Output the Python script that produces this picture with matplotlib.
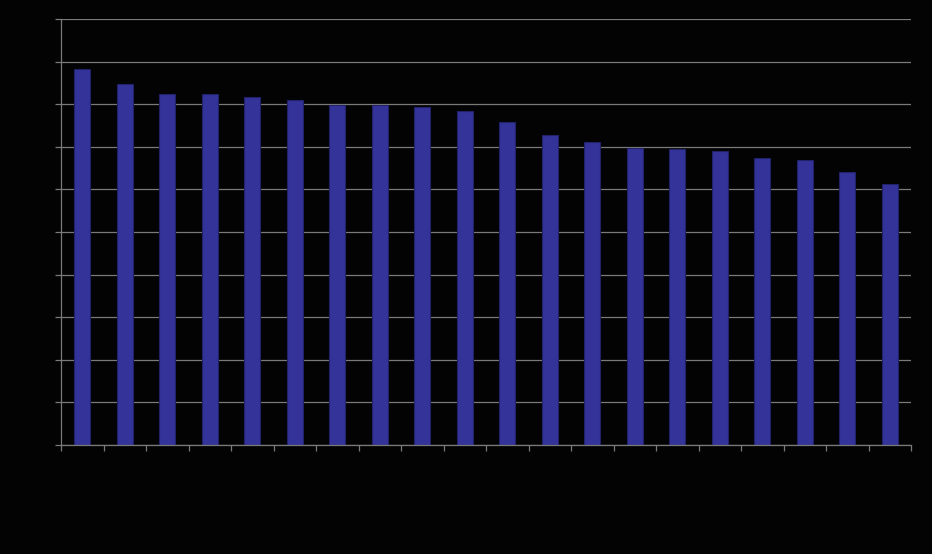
import matplotlib
matplotlib.use("Agg")
import matplotlib.pyplot as plt
import numpy as np

categories = [str(i) for i in range(1, 21)]
values = [88.3, 84.7, 82.4, 82.4, 81.7, 81.0, 79.8, 79.8, 79.3, 78.4,
          75.8, 72.8, 71.1, 69.7, 69.5, 69.0, 67.4, 66.9, 64.1, 61.3]
y_ticks = list(range(0, 101, 10))

fig = plt.figure(figsize=(9.32, 5.54), dpi=100, facecolor="#030303")
ax = fig.add_axes([61/932, 1-445/554, (911-61)/932, (445-19)/554])
ax.set_facecolor("#030303")

x = np.arange(len(categories))
ax.bar(x, values, width=0.38, color="#333399", edgecolor="#22226a", linewidth=0.8, zorder=3)

ax.set_xlim(-0.5, len(categories) - 0.5)
ax.set_ylim(0, 100)
ax.set_yticks(y_ticks)
ax.set_xticks(np.arange(-0.5, len(categories), 1.0))
ax.set_xticklabels([])
ax.set_yticklabels([])
ax.yaxis.grid(True, color="#7a7a7a", linewidth=0.9, zorder=0)
ax.tick_params(axis="both", colors="#7a7a7a", length=4, width=0.9)

for side in ["top", "right"]:
    ax.spines[side].set_visible(False)
for side in ["left", "bottom"]:
    ax.spines[side].set_color("#7a7a7a")
    ax.spines[side].set_linewidth(0.9)
ax.spines["bottom"].set_zorder(4)

fig.savefig("out.png", dpi=100, facecolor=fig.get_facecolor())
